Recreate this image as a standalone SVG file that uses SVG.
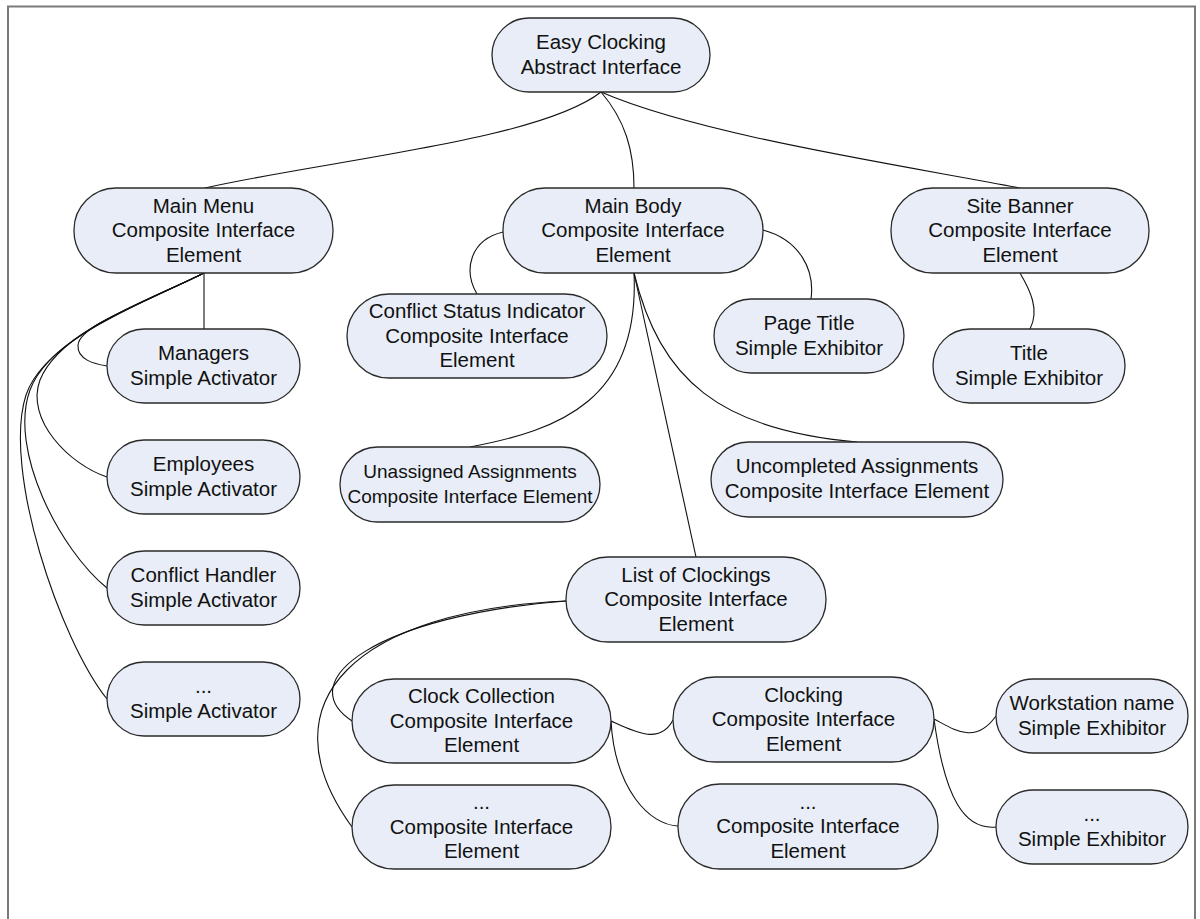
<svg xmlns="http://www.w3.org/2000/svg" width="1200" height="919" viewBox="0 0 1200 919">
  <style>
    .node rect { fill: #E8EDF7; stroke: #2a2a2a; stroke-width: 1.3; }
    .node text { font-family: "Liberation Sans", Arial, sans-serif; font-size: 20.5px; fill: #111; text-anchor: middle; }
    .node text.small { font-size: 19px; }
    #connectors path { fill: none; stroke: #111; stroke-width: 1.1; }
    .frame { fill: none; stroke: #7a7a7a; stroke-width: 2; }
  </style>

  <rect x="0" y="0" width="1200" height="919" fill="#ffffff"/>
  <rect class="frame" x="8" y="6.5" width="1187" height="1000"/>

  <!-- connectors -->
  <g id="connectors">
    <!-- root to first level -->
    <path d="M601,92 C540,140 330,160 205,188"/>
    <path d="M601,92 C625,120 634,150 634,188"/>
    <path d="M601,92 C700,135 900,165 1020,188"/>
    <!-- main menu children -->
    <path d="M204,273 L204,329"/>
    <path d="M204,273 C140,305 80,325 78,345 C77,360 95,364 107,366"/>
    <path d="M204,273 C150,300 60,330 40,380 C25,420 70,465 107,477"/>
    <path d="M204,273 C150,300 50,335 30,390 C8,450 60,550 107,588"/>
    <path d="M204,273 C150,300 45,338 26,395 C2,470 60,640 107,699"/>
    <!-- main body children -->
    <path d="M503,232 C470,240 463,270 477,294"/>
    <path d="M763,230 C800,240 815,270 811,299"/>
    <path d="M634,273 C640,400 560,430 470,447"/>
    <path d="M634,273 L696,557"/>
    <path d="M634,273 C660,380 720,430 857,442"/>
    <!-- site banner child -->
    <path d="M1020,273 C1030,290 1040,310 1030,329"/>
    <!-- list of clockings children -->
    <path d="M566,601 C380,615 290,680 352,721"/>
    <path d="M566,601 C360,610 260,700 352,827"/>
    <!-- clock collection children -->
    <path d="M611,721 C635,732 660,745 673,720"/>
    <path d="M611,721 C615,790 650,825 678,826"/>
    <!-- clocking children -->
    <path d="M934,719 C955,730 975,745 996,716"/>
    <path d="M934,719 C945,800 965,830 996,827"/>
  </g>

  <g id="root" class="node">
    <rect x="492" y="18" width="218" height="74" rx="37"/>
    <text><tspan x="601" y="49">Easy Clocking</tspan><tspan x="601" y="74">Abstract Interface</tspan></text>
  </g>

  <g id="main-menu" class="node">
    <rect x="74" y="188" width="259" height="85" rx="42"/>
    <text><tspan x="203.5" y="212.5">Main Menu</tspan><tspan x="203.5" y="237.2">Composite Interface</tspan><tspan x="203.5" y="261.9">Element</tspan></text>
  </g>

  <g id="main-body" class="node">
    <rect x="503" y="188" width="260" height="85" rx="42"/>
    <text><tspan x="633" y="212.5">Main Body</tspan><tspan x="633" y="237.2">Composite Interface</tspan><tspan x="633" y="261.9">Element</tspan></text>
  </g>

  <g id="site-banner" class="node">
    <rect x="891" y="188" width="258" height="85" rx="42"/>
    <text><tspan x="1020" y="212.5">Site Banner</tspan><tspan x="1020" y="237.2">Composite Interface</tspan><tspan x="1020" y="261.9">Element</tspan></text>
  </g>

  <g id="managers" class="node">
    <rect x="107" y="329" width="193" height="74" rx="37"/>
    <text><tspan x="203.5" y="360">Managers</tspan><tspan x="203.5" y="384.7">Simple Activator</tspan></text>
  </g>

  <g id="employees" class="node">
    <rect x="107" y="440" width="193" height="74" rx="37"/>
    <text><tspan x="203.5" y="471">Employees</tspan><tspan x="203.5" y="495.7">Simple Activator</tspan></text>
  </g>

  <g id="conflict-handler" class="node">
    <rect x="107" y="551" width="193" height="74" rx="37"/>
    <text><tspan x="203.5" y="582">Conflict Handler</tspan><tspan x="203.5" y="606.7">Simple Activator</tspan></text>
  </g>

  <g id="more-activators" class="node">
    <rect x="107" y="662" width="193" height="74" rx="37"/>
    <text><tspan x="203.5" y="693">...</tspan><tspan x="203.5" y="717.7">Simple Activator</tspan></text>
  </g>

  <g id="conflict-status" class="node">
    <rect x="347" y="294" width="260" height="84" rx="42"/>
    <text><tspan x="477" y="318">Conflict Status Indicator</tspan><tspan x="477" y="342.7">Composite Interface</tspan><tspan x="477" y="367.4">Element</tspan></text>
  </g>

  <g id="page-title" class="node">
    <rect x="714" y="299" width="190" height="74" rx="37"/>
    <text><tspan x="809" y="330">Page Title</tspan><tspan x="809" y="354.7">Simple Exhibitor</tspan></text>
  </g>

  <g id="title" class="node">
    <rect x="933" y="329" width="192" height="74" rx="37"/>
    <text><tspan x="1029" y="360">Title</tspan><tspan x="1029" y="384.7">Simple Exhibitor</tspan></text>
  </g>

  <g id="unassigned" class="node">
    <rect x="340" y="447" width="260" height="75" rx="37.5"/>
    <text class="small"><tspan x="470" y="478">Unassigned Assignments</tspan><tspan x="470" y="502.7">Composite Interface Element</tspan></text>
  </g>

  <g id="uncompleted" class="node">
    <rect x="711" y="442" width="292" height="75" rx="37.5"/>
    <text><tspan x="857" y="473">Uncompleted Assignments</tspan><tspan x="857" y="497.7">Composite Interface Element</tspan></text>
  </g>

  <g id="list-of-clockings" class="node">
    <rect x="566" y="557" width="260" height="85" rx="42"/>
    <text><tspan x="696" y="581.5">List of Clockings</tspan><tspan x="696" y="606.2">Composite Interface</tspan><tspan x="696" y="630.9">Element</tspan></text>
  </g>

  <g id="clock-collection" class="node">
    <rect x="352" y="679" width="259" height="84" rx="42"/>
    <text><tspan x="481.5" y="703">Clock Collection</tspan><tspan x="481.5" y="727.7">Composite Interface</tspan><tspan x="481.5" y="752.4">Element</tspan></text>
  </g>

  <g id="more-collections" class="node">
    <rect x="352" y="785" width="259" height="84" rx="42"/>
    <text><tspan x="481.5" y="809">...</tspan><tspan x="481.5" y="833.7">Composite Interface</tspan><tspan x="481.5" y="858.4">Element</tspan></text>
  </g>

  <g id="clocking" class="node">
    <rect x="673" y="677" width="261" height="85" rx="42"/>
    <text><tspan x="803.5" y="701.5">Clocking</tspan><tspan x="803.5" y="726.2">Composite Interface</tspan><tspan x="803.5" y="750.9">Element</tspan></text>
  </g>

  <g id="more-clockings" class="node">
    <rect x="678" y="784" width="260" height="85" rx="42"/>
    <text><tspan x="808" y="808.5">...</tspan><tspan x="808" y="833.2">Composite Interface</tspan><tspan x="808" y="857.9">Element</tspan></text>
  </g>

  <g id="workstation-name" class="node">
    <rect x="996" y="679" width="192" height="74" rx="37"/>
    <text><tspan x="1092" y="710">Workstation name</tspan><tspan x="1092" y="734.7">Simple Exhibitor</tspan></text>
  </g>

  <g id="more-exhibitors" class="node">
    <rect x="996" y="790" width="192" height="74" rx="37"/>
    <text><tspan x="1092" y="821">...</tspan><tspan x="1092" y="845.7">Simple Exhibitor</tspan></text>
  </g>
</svg>
